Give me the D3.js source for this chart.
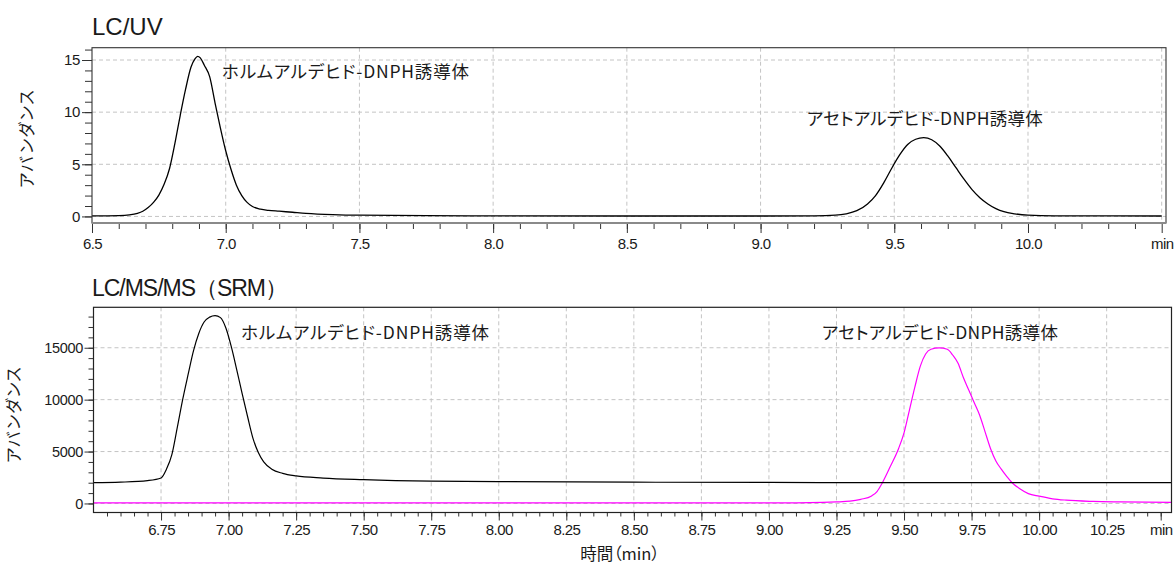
<!DOCTYPE html>
<html>
<head>
<meta charset="utf-8">
<script src="https://cdn.jsdelivr.net/npm/d3@7"></script>
<style>
body { margin: 0; background: #fff; }
svg text { font-family: "Liberation Sans", Arial, sans-serif; fill: #1a1a1a; }
.jp { font-family: "Noto Sans CJK JP", sans-serif; font-feature-settings: "palt"; }
.grid line { stroke: #c4c4c4; stroke-dasharray: 4,3; stroke-width: 1; }
.axis line { stroke: #333; }
</style>
</head>
<body>
<div id="chart"></div>
<script>
// LC/UV trace (min, absorbance)
var uvTime = [6.50, 6.60, 6.64, 6.67, 6.69, 6.71, 6.73, 6.75, 6.77, 6.79, 6.81, 6.83, 6.85, 6.87, 6.885, 6.895, 6.905, 6.92, 6.94, 6.96, 6.98, 7.00, 7.02, 7.04, 7.06, 7.08, 7.10, 7.13, 7.16, 7.20, 7.25, 7.30, 7.40, 7.50, 7.75, 8.00, 8.50, 9.00, 9.20, 9.28, 9.32, 9.36, 9.40, 9.43, 9.46, 9.49, 9.52, 9.55, 9.58, 9.61, 9.64, 9.67, 9.70, 9.73, 9.76, 9.79, 9.82, 9.85, 9.88, 9.91, 9.95, 10.00, 10.10, 10.50];
var uvAbund = [0.05, 0.08, 0.15, 0.30, 0.50, 0.85, 1.35, 2.05, 3.1, 4.6, 7.0, 9.7, 12.2, 14.3, 15.1, 15.35, 15.2, 14.5, 13.4, 10.9, 8.5, 6.3, 4.5, 3.0, 2.0, 1.35, 0.95, 0.7, 0.58, 0.5, 0.4, 0.3, 0.18, 0.12, 0.08, 0.05, 0.04, 0.04, 0.06, 0.12, 0.25, 0.55, 1.2, 2.0, 3.2, 4.6, 5.9, 6.9, 7.4, 7.55, 7.35, 6.75, 5.8, 4.7, 3.6, 2.6, 1.8, 1.2, 0.75, 0.45, 0.25, 0.12, 0.06, 0.04];

// LC/MS/MS SRM, formaldehyde channel (black)
var formTime = [6.50, 6.60, 6.70, 6.75, 6.77, 6.79, 6.81, 6.83, 6.85, 6.87, 6.89, 6.91, 6.93, 6.95, 6.97, 6.99, 7.01, 7.03, 7.05, 7.07, 7.09, 7.11, 7.13, 7.16, 7.20, 7.25, 7.35, 7.50, 7.75, 8.00, 8.50, 9.00, 9.50, 10.00, 10.49];
var formAbund = [2000, 2050, 2200, 2450, 3300, 4700, 7300, 10000, 12400, 14700, 16400, 17500, 17950, 18100, 17900, 16900, 15100, 12900, 10600, 8400, 6300, 4900, 4000, 3300, 2900, 2650, 2450, 2300, 2150, 2100, 2050, 2030, 2000, 2000, 2000];

// LC/MS/MS SRM, acetaldehyde channel (magenta)
var acetTime = [6.50, 7.00, 8.00, 9.00, 9.20, 9.25, 9.30, 9.34, 9.38, 9.40, 9.42, 9.45, 9.48, 9.50, 9.52, 9.54, 9.56, 9.58, 9.60, 9.63, 9.66, 9.68, 9.70, 9.72, 9.74, 9.76, 9.78, 9.80, 9.82, 9.84, 9.86, 9.88, 9.90, 9.93, 9.96, 10.00, 10.05, 10.10, 10.20, 10.30, 10.49];
var acetAbund = [60, 50, 50, 60, 110, 150, 220, 400, 730, 1150, 2000, 3600, 5300, 6800, 9000, 11200, 13200, 14400, 14850, 14980, 14850, 14300, 13500, 12100, 10900, 9700, 8500, 6900, 5300, 4100, 3300, 2600, 2000, 1400, 950, 700, 450, 320, 200, 150, 100];

// ticks
var uvXTicks = [6.5, 7.0, 7.5, 8.0, 8.5, 9.0, 9.5, 10.0, 10.5];
var uvXLabels = ["6.5", "7.0", "7.5", "8.0", "8.5", "9.0", "9.5", "10.0", "min"];
var uvYTicks = [0, 5, 10, 15];
var srmXTicks = [6.75, 7.00, 7.25, 7.50, 7.75, 8.00, 8.25, 8.50, 8.75, 9.00, 9.25, 9.50, 9.75, 10.00, 10.25, 10.45];
var srmXLabels = ["6.75", "7.00", "7.25", "7.50", "7.75", "8.00", "8.25", "8.50", "8.75", "9.00", "9.25", "9.50", "9.75", "10.00", "10.25", "min"];
var srmYTicks = [0, 5000, 10000, 15000];

// peak names and where they sit (data units)
var peakNames = ["ホルムアルデヒド-DNPH誘導体", "アセトアルデヒド-DNPH誘導体"];
var uvNameTime = [6.986, 9.173];
var uvNameAbund = [13.82, 9.39];
var srmNameTime = [7.046, 9.196];
var srmNameAbund = [16420, 16420];

var svg;

window.onload = start;

function start() {
    svg = d3.select("#chart").append("svg")
        .attr("width", 1175)
        .attr("height", 565);

    // ---------- LC/UV ----------
    var top = {left: 92, right: 1166, top: 47.7, bottom: 223};
    var x1 = d3.scaleLinear().domain([6.5, 10.5]).range([92, 1161.7]);
    var y1 = d3.scaleLinear().domain([-0.63, 16.18]).range([top.bottom, top.top]);

    svg.append("text").attr("x", 92).attr("y", 34.5)
        .style("font-size", "24px").text("LC/UV");

    grid(x1, y1, uvXTicks.slice(1), uvYTicks, top);

    xTicks(x1, top.bottom, d3.range(6.6, 10.45, 0.1), 6, null, 0);
    xTicks(x1, top.bottom, uvXTicks, 10, uvXLabels, 5);
    yTicks(y1, top.left, d3.range(0, 17, 1), 7, null);
    yTicks(y1, top.left, uvYTicks, 10, uvYTicks, 2, "15px");

    plotLine("clipTop", top, x1, y1, uvTime, uvAbund, "#000", 1.3);

    svg.append("rect")
        .attr("x", top.left).attr("y", top.top)
        .attr("width", top.right - top.left).attr("height", top.bottom - top.top)
        .attr("fill", "none").attr("stroke", "#333").attr("stroke-width", 1.1);
    svg.append("line")
        .attr("x1", top.left).attr("x2", top.right)
        .attr("y1", top.bottom).attr("y2", top.bottom)
        .attr("stroke", "#8a8a8a").attr("stroke-width", 2);

    svg.append("text").attr("class", "jp")
        .attr("transform", "translate(33,139) rotate(-90)")
        .attr("text-anchor", "middle")
        .attr("textLength", 98)
        .style("font-size", "16.5px")
        .text("アバンダンス");

    peakNames.forEach(function(name, i) {
        svg.append("text").attr("class", "jp")
            .attr("x", x1(uvNameTime[i])).attr("y", y1(uvNameAbund[i]))
            .attr("dy", "0.35em")
            .attr("textLength", i == 0 ? 247 : 236)
            .style("font-size", "17.5px")
            .text(name);
    });

    // ---------- LC/MS/MS ----------
    var bot = {left: 93.5, right: 1171.5, top: 307.3, bottom: 512.5};
    var x2 = d3.scaleLinear().domain([6.5, 10.49]).range([bot.left, bot.right]);
    var y2 = d3.scaleLinear().domain([-870, 18895]).range([bot.bottom, bot.top]);

    svg.append("text").attr("x", 92).attr("y", 296)
        .attr("textLength", 196)
        .style("font-size", "23px").text("LC/MS/MS（SRM）");

    grid(x2, y2, srmXTicks.slice(0, -1), srmYTicks, bot);

    xTicks(x2, bot.bottom, d3.range(6.55, 10.47, 0.05), 4, null, 0);
    xTicks(x2, bot.bottom, srmXTicks, 8, srmXLabels, 4);
    yTicks(y2, bot.left, d3.range(0, 19000, 1000), 5, null);
    yTicks(y2, bot.left, srmYTicks, 9, srmYTicks, 1.5, "14.5px");

    plotLine("clipBot", bot, x2, y2, acetTime, acetAbund, "#ff00ff", 1.2);
    plotLine("clipBot2", bot, x2, y2, formTime, formAbund, "#000", 1.2);

    svg.append("rect")
        .attr("x", bot.left).attr("y", bot.top)
        .attr("width", bot.right - bot.left).attr("height", bot.bottom - bot.top)
        .attr("fill", "none").attr("stroke", "#222").attr("stroke-width", 1.2);

    svg.append("text").attr("class", "jp")
        .attr("transform", "translate(20,415) rotate(-90)")
        .attr("text-anchor", "middle")
        .attr("textLength", 96)
        .style("font-size", "16.5px")
        .text("アバンダンス");

    peakNames.forEach(function(name, i) {
        svg.append("text").attr("class", "jp")
            .attr("x", x2(srmNameTime[i])).attr("y", y2(srmNameAbund[i]))
            .attr("dy", "0.35em")
            .attr("textLength", i == 0 ? 248 : 236)
            .style("font-size", "17.5px")
            .text(name);
    });

    svg.append("text").attr("class", "jp")
        .attr("x", 620).attr("y", 554).attr("dy", "0.35em")
        .attr("text-anchor", "middle")
        .style("font-size", "16.5px")
        .text("時間（min）");
}

function grid(x, y, xs, ys, box) {
    var g = svg.append("g").attr("class", "grid");
    g.selectAll(".gx").data(xs).enter().append("line")
        .attr("x1", function(d) { return x(d); })
        .attr("x2", function(d) { return x(d); })
        .attr("y1", box.top).attr("y2", box.bottom);
    g.selectAll(".gy").data(ys).enter().append("line")
        .attr("y1", function(d) { return y(d); })
        .attr("y2", function(d) { return y(d); })
        .attr("x1", box.left).attr("x2", box.right);
}

function xTicks(x, y0, values, len, labels, pad) {
    var axis = d3.axisBottom(x).tickValues(values).tickSize(len).tickSizeOuter(0);
    if (labels) {
        axis.tickPadding(pad).tickFormat(function(d, i) { return labels[i]; });
    } else {
        axis.tickFormat("");
    }
    var g = svg.append("g").attr("class", "axis")
        .attr("transform", "translate(0," + y0 + ")")
        .call(axis);
    g.select(".domain").remove();
    g.selectAll("text")
        .attr("font-family", null)
        .style("font-size", "15px").style("letter-spacing", "-0.6px");
}

function yTicks(y, x0, values, len, labels, pad, fs) {
    var axis = d3.axisLeft(y).tickValues(values).tickSize(len).tickSizeOuter(0);
    if (labels) {
        axis.tickPadding(pad).tickFormat(function(d, i) { return labels[i]; });
    } else {
        axis.tickFormat("");
    }
    var g = svg.append("g").attr("class", "axis")
        .attr("transform", "translate(" + x0 + ",0)")
        .call(axis);
    g.select(".domain").remove();
    g.selectAll("text").attr("font-family", null)
        .style("font-size", fs || "14px").style("letter-spacing", "-0.3px");
}

function plotLine(id, box, x, y, ts, vs, color, w) {
    svg.append("clipPath").attr("id", id).append("rect")
        .attr("x", box.left).attr("y", box.top)
        .attr("width", box.right - box.left).attr("height", box.bottom - box.top);
    var line = d3.line()
        .x(function(d, i) { return x(ts[i]); })
        .y(function(d, i) { return y(vs[i]); })
        .curve(d3.curveMonotoneX);
    svg.append("path")
        .attr("clip-path", "url(#" + id + ")")
        .attr("d", line(ts))
        .attr("fill", "none")
        .attr("stroke", color)
        .attr("stroke-width", w);
}
</script>
</body>
</html>
